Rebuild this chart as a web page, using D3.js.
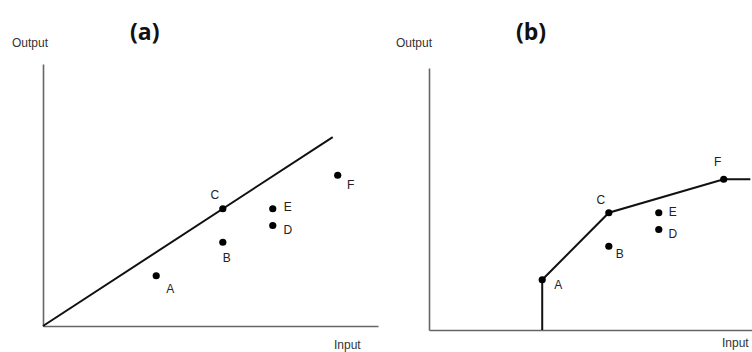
<!DOCTYPE html>
<html><head><meta charset="utf-8">
<script src="https://cdn.jsdelivr.net/npm/d3@7"></script>
<style>body{margin:0;background:#fff}svg{display:block}</style>
</head><body>
<script>
// Data (abstract units)
const firms = ["A","B","C","D","E","F"];
const inputs = [3.4, 5.4, 5.4, 6.9, 6.9, 8.85];
const outputs = [1.5, 2.5, 3.5, 3.0, 3.5, 4.5];
const panelTitles = ["(a)", "(b)"];
const axisLabels = ["Input", "Output"];
const crsEndInput = 8.7;          // CRS ray end (panel a)
const frontierFirms = ["A","C","F"]; // VRS frontier (panel b)
const vrsEndInput = 9.65;

const W = 752, H = 352;
const svg = d3.select("body").append("svg").attr("width", W).attr("height", H)
  .style("font-family", "'Liberation Sans', Arial, sans-serif");

const panels = [
  {ox: 43, oy: 326, xEnd: 378, yTop: 64},
  {ox: 429, oy: 330, xEnd: 752, yTop: 68}
];
const pxPerX = 33.3, pxPerY = 33.5;

// label offsets per firm
const lblOff = {
  a: {A:[14,14],B:[4,17],C:[-8,-13],D:[15,5],E:[15,-1],F:[13,11]},
  b: {A:[16,6],B:[11,9],C:[-8,-12],D:[14,5],E:[14,0],F:[-6,-16]}
};

panels.forEach((p, i) => {
  const x = d3.scaleLinear().domain([0, (p.xEnd - p.ox) / pxPerX]).range([p.ox, p.xEnd]);
  const y = d3.scaleLinear().domain([0, (p.oy - p.yTop) / pxPerY]).range([p.oy, p.yTop]);
  const g = svg.append("g");

  // axes
  const xAxis = d3.axisBottom(x).tickValues([]).tickSizeOuter(0);
  const yAxis = d3.axisLeft(y).tickValues([]).tickSizeOuter(0);
  g.append("g").attr("transform", `translate(0,${p.oy})`).call(xAxis)
    .select(".domain").attr("stroke", "#666").attr("stroke-width", 1.6);
  g.append("g").attr("transform", `translate(${p.ox},0)`).call(yAxis)
    .select(".domain").attr("stroke", "#666").attr("stroke-width", 1.6);

  // axis labels
  g.append("text").attr("x", i ? 396 : 12).attr("y", 47)
    .attr("font-size", 12).attr("fill", "#333").text(axisLabels[1]);
  g.append("text").attr("x", i ? 722 : 334).attr("y", i ? 347 : 349)
    .attr("font-size", 12).attr("fill", "#333").text(axisLabels[0]);

  // title
  g.append("text").attr("x", i ? 516 : 130).attr("y", 40)
    .attr("font-size", 23).attr("font-weight", "bold")
    .attr("font-family", "'Open Sans', 'DejaVu Sans', sans-serif")
    .attr("fill", "#111").text(panelTitles[i]);

  const line = d3.line().x(d => x(d[0])).y(d => y(d[1]));
  let pts;
  if (i === 0) {
    const ci = firms.indexOf("C");
    const slope = outputs[ci] / inputs[ci];
    pts = [[0, 0], [crsEndInput, crsEndInput * slope]];
  } else {
    const fr = frontierFirms.map(f => firms.indexOf(f));
    pts = [[inputs[fr[0]], 0]].concat(fr.map(k => [inputs[k], outputs[k]]));
    pts.push([vrsEndInput, outputs[fr[fr.length - 1]]]);
  }
  g.append("path").attr("d", line(pts)).attr("fill", "none")
    .attr("stroke", "#111").attr("stroke-width", 2);

  // points
  const key = i ? "b" : "a";
  firms.forEach((f, k) => {
    g.append("circle").attr("cx", x(inputs[k])).attr("cy", y(outputs[k]))
      .attr("r", 3.6).attr("fill", "#000");
    const o = lblOff[key][f];
    g.append("text").attr("x", x(inputs[k]) + o[0]).attr("y", y(outputs[k]) + o[1])
      .attr("text-anchor", "middle").attr("dominant-baseline", "middle")
      .attr("font-size", 12).attr("fill", "#222").text(f);
  });
});
</script>
</body></html>
